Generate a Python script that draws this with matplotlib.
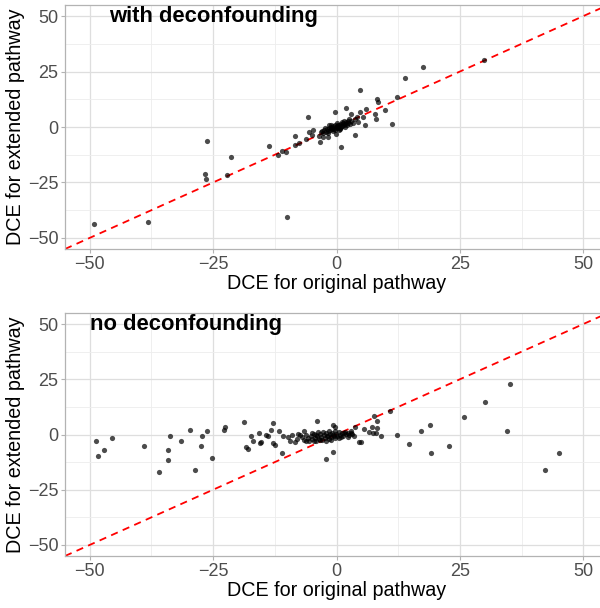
import numpy as np
import matplotlib
matplotlib.use('Agg')
import matplotlib.pyplot as plt
from matplotlib.ticker import MultipleLocator

plt.rcParams['font.family'] = ['Liberation Sans', 'DejaVu Sans']

# with deconfounding: spread-out points, then the dense cluster at the origin
with_x = [-49.2, -38.2, -26.2, -26.6, -26.5, -21.4, -22.2, -13.6, -11.9, -11.1,
          -10.2, -10.1, -8.4, -8.4, -7.5, -6.1, -5.7, -5.6, -4.9, -4.7,
          -3.6, -3.4, -2.7, -2.9, -1.7, -1.7, -0.3, -0.2, 0.9, 2.0,
          3.0, 3.8, 4.7, 4.8, 5.9, 5.7, 5.4, 4.3, 4.1, 3.8,
          7.8, 8.0, 8.2, 8.5, 9.8, 11.3, 12.3, 13.9, 17.5, 29.8]
with_y = [-43.9, -42.7, -6.1, -21.3, -23.4, -13.5, -21.7, -8.4, -12.6, -10.6,
          -11.2, -40.7, -3.9, -7.9, -7.3, -5.5, 4.5, -2.2, -3.6, -1.5,
          -4.2, -6.6, -4.3, -1.8, -4.3, -2.8, 6.7, -3.3, -9.0, 8.4,
          5.8, -3.7, 16.9, 6.9, 7.9, 1.0, 4.6, 2.2, 4.6, 3.4,
          6.0, 3.7, 12.4, 11.4, 7.5, 1.3, 13.6, 21.9, 27.2, 30.4]
with_cx = [-3.2, -2.8, -2.5, -2.2, -2.0, -1.8, -1.6, -1.4, -1.2, -1.0,
           -0.9, -0.7, -0.5, -0.4, -0.2, 0.0, 0.1, 0.3, 0.4, 0.6,
           0.8, 0.9, 1.1, 1.3, 1.5, 1.7, 1.9, 2.1, 2.4, 2.7,
           3.0, 3.3, -1.5, -0.8, 0.2, 0.7, 1.2, 1.8, 2.3, -2.4,
           -1.1, 0.5, 1.6, 2.6, -0.3, 1.0]
with_cy = [-2.1, -2.9, -1.4, -2.4, -0.8, -1.9, -0.6, -1.5, 0.2, -1.0,
           -0.3, 0.5, -0.8, 0.9, -0.2, 0.3, -0.6, 1.0, 0.1, 0.7,
           -0.4, 1.4, 0.5, 1.8, 0.9, 1.2, 2.2, 1.0, 2.6, 1.5,
           2.9, 2.0, 0.8, -1.9, 1.6, -0.9, 2.4, -0.2, 1.8, -0.3,
           0.9, -1.2, 2.8, 3.4, -1.4, 0.2]

# no deconfounding
no_x = [-48.7, -48.3, -47.1, -45.4, -38.9, -36.0, -34.2, -34.1, -33.7, -31.4,
        -29.6, -28.6, -27.4, -27.2, -26.2, -25.2, -22.7, -22.5, -18.8, -18.3,
        -17.9, -17.3, -16.9, -15.8, -15.4, -15.2, -14.2, -13.8, -13.3, -12.9,
        -12.8, -12.5, -11.7, -11.1, -10.8, -9.9, -9.4, -9.1, -8.5, -8.1,
        -7.7, -7.3, -6.6, -4.0, -2.2, -0.8, -0.7, -0.4, 3.7, 4.6,
        4.9, 5.5, 6.5, 7.2, 7.4, 7.6, 8.1, 8.3, 8.3, 9.1,
        10.8, 12.2, 14.7, 17.2, 18.9, 19.1, 22.8, 25.9, 30.1, 34.5,
        35.1, 42.3, 45.1]
no_y = [-3.0, -9.8, -6.9, -1.5, -5.3, -17.1, -11.4, -7.2, -0.9, -2.9,
        2.0, -16.1, -5.4, -0.9, 1.8, -10.8, 2.1, 3.5, 5.7, -5.7,
        -6.5, -0.8, -3.0, 0.6, -3.8, -3.6, -0.2, -0.9, 2.0, 5.0,
        -3.8, -4.8, 1.5, -8.3, -0.8, -1.2, -2.9, -0.2, -3.5, -2.1,
        0.2, 0.0, 1.8, 6.0, -11.0, 4.4, -7.7, 3.5, 3.5, -3.3,
        -3.6, 2.3, 1.1, 3.5, 0.8, 8.4, 0.5, 5.9, 2.9, -0.6,
        10.7, -0.3, -4.1, 1.8, 4.1, -8.3, -5.4, 8.0, 14.6, 1.8,
        22.8, -15.9, -8.3]
no_cx = [-7.0, -6.5, -6.1, -5.8, -5.5, -5.2, -4.9, -4.6, -4.4, -4.1,
         -3.9, -3.6, -3.4, -3.1, -2.9, -2.6, -2.4, -2.1, -1.9, -1.6,
         -1.4, -1.1, -0.9, -0.6, -0.4, -0.1, 0.2, 0.5, 0.8, 1.1,
         1.4, 1.7, 2.0, 2.3, 2.6, 2.9, 3.2, 3.5, -5.0, -4.2,
         -3.3, -2.7, -1.8, -1.2, -0.3, 0.6, 1.5, 2.4, 3.0, -6.2,
         -3.8, -2.2, -0.7, 1.0, -4.5, -1.5]
no_cy = [-1.2, -2.5, -0.4, -1.8, -2.9, -0.9, -2.2, 0.3, -1.5, -2.8,
         -0.6, -1.9, 0.4, -1.2, -2.6, -0.3, -1.6, 0.5, -0.9, -2.1,
         0.1, -1.3, 0.8, -0.5, -1.7, 0.3, -0.8, 1.0, -0.2, 0.6,
         -0.5, 1.2, 0.2, 0.9, -0.3, 1.4, 0.4, -0.6, 0.9, -0.4,
         -2.3, 1.1, -0.7, -2.4, 1.5, -1.4, 0.7, -1.0, 0.9, -3.0,
         1.3, -2.9, -0.1, -1.1, -3.1, 1.8]

panels = [
    ('with deconfounding', -25, with_x + with_cx, with_y + with_cy),
    ('no deconfounding', -30.5, no_x + no_cx, no_y + no_cy),
]
ticks = [-50, -25, 0, 25, 50]

W, H = 600, 608
fig = plt.figure(figsize=(W / 100, H / 100), dpi=100)

# axes boxes in pixels (left, top, right, bottom); right edge runs past the image
boxes = [(65, 5, 608, 249), (65, 313, 608, 556)]

for (title, tx, xs, ys), (l, t, r, b) in zip(panels, boxes):
    ax = fig.add_axes([l / W, 1 - b / H, (r - l) / W, (b - t) / H])
    ax.set_xlim(-55, 55)
    ax.set_ylim(-55, 55)
    ax.set_xticks(ticks)
    ax.set_yticks(ticks)
    ax.xaxis.set_minor_locator(MultipleLocator(12.5))
    ax.yaxis.set_minor_locator(MultipleLocator(12.5))
    ax.grid(which='major', color='#DEDEDE', lw=0.9)
    ax.grid(which='minor', color='#EDEDED', lw=0.6)
    ax.set_axisbelow(True)
    for s in ax.spines.values():
        s.set_color('#B3B3B3')
        s.set_linewidth(0.9)
    ax.tick_params(which='major', length=2.7, width=0.8, color='#B3B3B3',
                   labelsize=13, labelcolor='#4D4D4D', pad=2)
    ax.tick_params(which='minor', length=0)

    ax.axline((0, 0), slope=1, color='red', ls=(0, (4, 3)), lw=1.3, zorder=1)
    ax.scatter(xs, ys, s=14, color='black', alpha=0.7, lw=0, zorder=2)

    ax.text(tx, 50, title, fontsize=15.8, fontweight='bold', ha='center',
            va='center', zorder=3)
    ax.set_xlabel('DCE for original pathway', fontsize=14.2, labelpad=1)
    ax.set_ylabel('DCE for extended pathway', fontsize=14.2, labelpad=2)

fig.savefig('out.png', dpi=100)
